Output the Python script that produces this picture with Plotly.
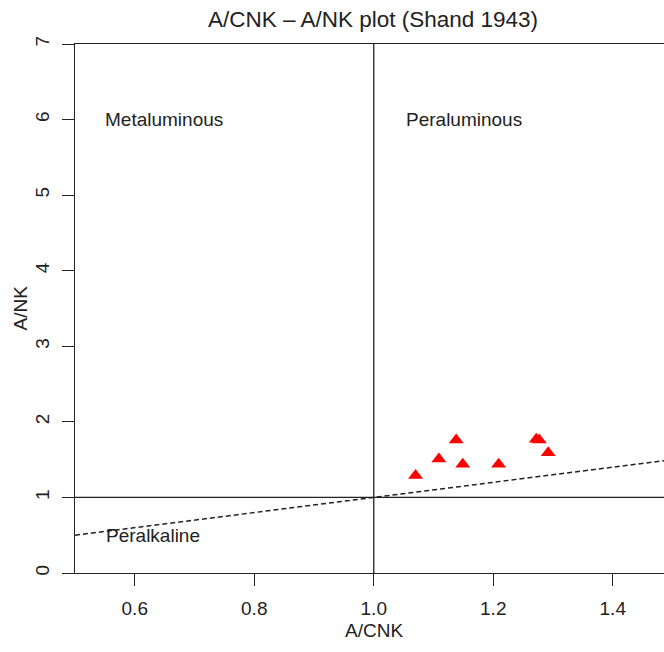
import plotly.graph_objects as go

# Data
acnk = [1.070, 1.109, 1.138, 1.149, 1.209, 1.272, 1.277, 1.292]
ank = [1.29, 1.51, 1.76, 1.44, 1.44, 1.77, 1.76, 1.59]

# Boundary lines of the diagram
div_x = [0.5, 1.5]
div_y = [0.5, 1.5]
x_ticks = [0.6, 0.8, 1.0, 1.2, 1.4]
x_tick_labels = ["0.6", "0.8", "1.0", "1.2", "1.4"]
y_ticks = [0, 1, 2, 3, 4, 5, 6, 7]
y_tick_labels = [str(v) for v in y_ticks]

field_labels = ["Metaluminous", "Peraluminous", "Peralkaline"]
field_x = [0.547, 1.05, 0.549]
field_y = [6.0, 6.0, 0.49]

FONT = "Liberation Sans, Arial, Helvetica, sans-serif"
INK = "#222222"
FS = 19

fig = go.Figure()

# dashed line A/NK = A/CNK
fig.add_trace(go.Scatter(
    x=div_x, y=div_y, mode="lines",
    line=dict(color=INK, width=1.5, dash="5px,3px"),
    hoverinfo="skip", showlegend=False,
))

# samples
fig.add_trace(go.Scatter(
    x=acnk, y=ank, mode="markers",
    marker=dict(symbol="triangle-up", size=13, color="#ff0000",
                line=dict(width=0)),
    showlegend=False,
))

# solid divider lines
fig.add_shape(type="line", xref="x", yref="y", x0=1.0, x1=1.0, y0=0, y1=7,
              line=dict(color=INK, width=1.3))
fig.add_shape(type="line", xref="x", yref="y", x0=0.5, x1=1.5, y0=1, y1=1,
              line=dict(color=INK, width=1.3))

for t, x, y in zip(field_labels, field_x, field_y):
    fig.add_annotation(x=x, y=y, xref="x", yref="y", text=t, showarrow=False,
                       xanchor="left", yanchor="middle",
                       font=dict(family=FONT, size=FS, color=INK))

# axis titles
fig.add_annotation(x=1.0, xref="x", y=0, yref="paper", yshift=-57,
                   text="A/CNK", showarrow=False, xanchor="center", yanchor="middle",
                   font=dict(family=FONT, size=FS, color=INK))
fig.add_annotation(x=0, xref="paper", xshift=-55, y=3.5, yref="y",
                   text="A/NK", textangle=-90, showarrow=False,
                   xanchor="center", yanchor="middle",
                   font=dict(family=FONT, size=FS, color=INK))

fig.update_layout(
    width=664, height=652,
    margin=dict(l=75, r=0, t=44, b=79, autoexpand=False),
    paper_bgcolor="white", plot_bgcolor="white",
    font=dict(family=FONT, size=FS, color=INK),
    title=dict(text="A/CNK \u2013 A/NK plot (Shand 1943)",
               xref="container", yref="container",
               x=373 / 664, y=1 - 19 / 652, xanchor="center", yanchor="middle",
               font=dict(family=FONT, size=22.5, color=INK)),
)

fig.update_xaxes(
    range=[0.5, 0.5 + 589 / 597.5], automargin=False,
    tickmode="array", tickvals=x_ticks, ticktext=x_tick_labels,
    ticks="outside", ticklen=12, tickwidth=1.3, tickcolor=INK,
    showline=True, linecolor=INK, linewidth=1.3, mirror=True,
    showgrid=False, zeroline=False,
    ticklabelstandoff=6,
    tickfont=dict(family=FONT, size=FS, color=INK),
)
fig.update_yaxes(
    range=[0, 7], automargin=False,
    tickmode="array", tickvals=y_ticks, ticktext=y_tick_labels,
    tickangle=-90,
    ticks="outside", ticklen=12, tickwidth=1.3, tickcolor=INK,
    showline=True, linecolor=INK, linewidth=1.3, mirror=False,
    showgrid=False, zeroline=False,
    ticklabelstandoff=5,
    tickfont=dict(family=FONT, size=FS, color=INK),
)

fig.write_html(
    "out.html",
    config={"displayModeBar": False},
    post_script="document.body.style.margin='0';document.body.style.overflow='hidden';",
)
